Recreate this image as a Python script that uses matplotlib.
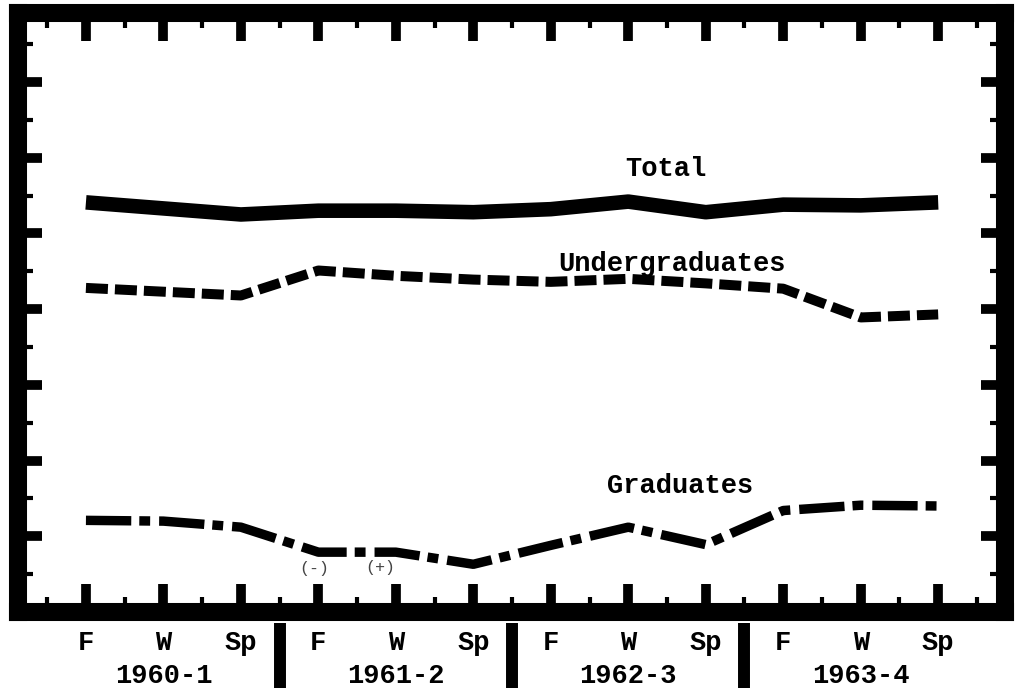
import matplotlib
matplotlib.use("Agg")
import matplotlib.pyplot as plt
from matplotlib.ticker import MultipleLocator

plt.rcParams['font.family'] = ['Liberation Mono', 'DejaVu Sans Mono']

# terms per academic year, in order
terms = ["F", "W", "Sp"] * 4
years = ["1960-1", "1961-2", "1962-3", "1963-4"]

# values (arbitrary units = major tick steps)
total = [5.41, 5.33, 5.25, 5.30, 5.30, 5.28, 5.32, 5.42, 5.28, 5.38, 5.37, 5.41]
undergrad = [4.28, 4.23, 4.18, 4.51, 4.44, 4.39, 4.36, 4.40, 4.34, 4.27, 3.89, 3.93]
graduates = [1.21, 1.20, 1.12, 0.79, 0.79, 0.63, 0.88, 1.12, 0.89, 1.34, 1.41, 1.40]

x = list(range(len(terms)))

fig = plt.figure(figsize=(10.16, 6.88), dpi=100)
ax = fig.add_axes([0.0177, 0.1105, 0.9713, 0.8705])

ax.plot(x, total, color="black", lw=10.5, solid_capstyle="butt")
ax.plot(x, undergrad, color="black", lw=7.2, dash_capstyle="butt",
        linestyle=(0, (2.2, 0.7)))
ax.plot(x, graduates, color="black", lw=6.8, dash_capstyle="butt",
        linestyle=(0, (4.8, 0.85, 1.15, 0.95)))

txt = dict(fontsize=19.5, fontweight="bold", ha="center", va="center")
ax.text(7.48, 5.85, "Total", **txt)
ax.text(7.56, 4.60, "Undergraduates", **txt)
ax.text(7.67, 1.66, "Graduates", **txt)

# faint hand marks under the graduates line
ax.text(2.95, 0.58, "(-)", fontsize=12, ha="center", va="center", color="#444444")
ax.text(3.8, 0.59, "(+)", fontsize=12, ha="center", va="center", color="#444444")

ax.set_xlim(-0.877, 11.86)
ax.set_ylim(0, 7.91)

for s in ax.spines.values():
    s.set_linewidth(13)

ax.xaxis.set_major_locator(MultipleLocator(1))
ax.xaxis.set_minor_locator(MultipleLocator(1, offset=0.5))
ax.yaxis.set_major_locator(MultipleLocator(1))
ax.yaxis.set_minor_locator(MultipleLocator(0.5))
ax.set_yticks(range(1, 8))
ax.set_xticks(x)
ax.set_xticklabels(terms, fontsize=19.5, fontweight="bold")
ax.set_yticklabels([])

ax.tick_params(axis="both", which="both", direction="in", top=True, right=True,
               color="black")
ax.tick_params(axis="x", which="major", length=20, width=7, pad=13)
ax.tick_params(axis="x", which="minor", length=11, width=3)
ax.tick_params(axis="y", which="major", length=17, width=7)
ax.tick_params(axis="y", which="minor", length=11, width=3)

# year labels and separators below the axis
xt = ax.get_xaxis_transform()
for i, yr in enumerate(years):
    ax.text(3 * i + 1, -0.107, yr, transform=xt, fontsize=19.5, fontweight="bold",
            ha="center", va="center")
for i in range(1, len(years)):
    ax.plot([3 * i - 0.5, 3 * i - 0.5], [-0.018, -0.13], transform=xt,
            color="black", lw=8.6, clip_on=False, solid_capstyle="butt")

fig.savefig("out.png", dpi=100, facecolor="white")
